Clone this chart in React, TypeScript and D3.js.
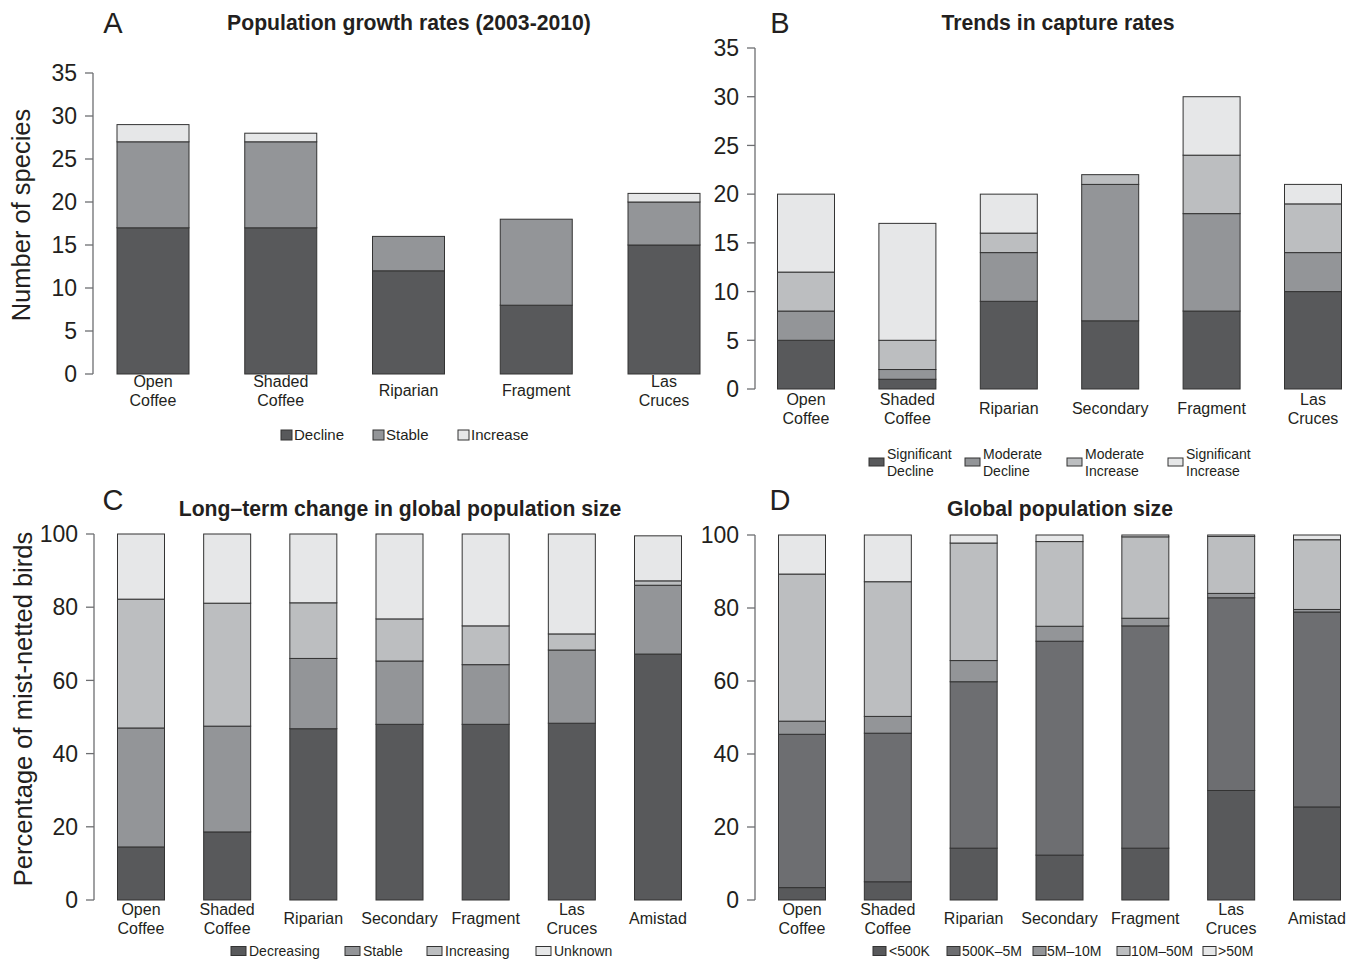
import React from "react";
import * as d3 from "d3";

// ---- Panel A: population growth rates (number of species)
const aCategories = ["Open\nCoffee", "Shaded\nCoffee", "Riparian", "Fragment", "Las\nCruces"];
const aDecline = [17, 17, 12, 8, 15];
const aStable = [10, 10, 4, 10, 5];
const aIncrease = [2, 1, 0, 0, 1];
const aLegend = ["Decline", "Stable", "Increase"];
const aTicks = [0, 5, 10, 15, 20, 25, 30, 35];

// ---- Panel B: trends in capture rates (number of species)
const bCategories = ["Open\nCoffee", "Shaded\nCoffee", "Riparian", "Secondary", "Fragment", "Las\nCruces"];
const bSigDecline = [5, 1, 9, 7, 8, 10];
const bModDecline = [3, 1, 5, 14, 10, 4];
const bModIncrease = [4, 3, 2, 1, 6, 5];
const bSigIncrease = [8, 12, 4, 0, 6, 2];
const bLegend = ["Significant\nDecline", "Moderate\nDecline", "Moderate\nIncrease", "Significant\nIncrease"];
const bTicks = [0, 5, 10, 15, 20, 25, 30, 35];

// ---- Panel C: long-term change in global population size (% of birds)
const cdCategories = ["Open\nCoffee", "Shaded\nCoffee", "Riparian", "Secondary", "Fragment", "Las\nCruces", "Amistad"];
const cDecreasing = [14.5, 18.6, 46.8, 48, 48, 48.3, 67.2];
const cStable = [32.5, 28.9, 19.2, 17.3, 16.3, 20, 18.8];
const cIncreasing = [35.2, 33.6, 15.2, 11.5, 10.6, 4.4, 1.2];
const cUnknown = [17.8, 18.9, 18.8, 23.2, 25.1, 27.3, 12.3];
const cLegend = ["Decreasing", "Stable", "Increasing", "Unknown"];

// ---- Panel D: global population size (% of birds)
const dLt500K = [3.4, 5, 14.2, 12.3, 14.2, 30, 25.5];
const d500Kto5M = [42, 40.7, 45.6, 58.6, 60.9, 52.8, 53.4];
const d5Mto10M = [3.6, 4.6, 5.8, 4.1, 2.1, 1.2, 0.7];
const d10Mto50M = [40.3, 36.9, 32.2, 23.2, 22.3, 15.6, 19.1];
const dGt50M = [10.7, 12.8, 2.2, 1.8, 0.5, 0.4, 1.3];
const dLegend = ["<500K", "500K\u20135M", "5M\u201310M", "10M\u201350M", ">50M"];
const pctTicks = [0, 20, 40, 60, 80, 100];

const titleA = "Population growth rates (2003-2010)";
const titleB = "Trends in capture rates";
const titleC = "Long\u2013term change in global population size";
const titleD = "Global population size";

const DARK = "#58595b";
const DARK2 = "#6d6e71";
const MID = "#939598";
const LIGHT = "#bcbec0";
const PALE = "#e6e7e8";
const INK = "#231f20";
const AXIS = "#6d6e71";
const FONT = "'Liberation Sans', Arial, Helvetica, sans-serif";

type LegendItem = { box: number; text: number };

type PanelProps = {
  letter: string;
  letterX: number;
  letterY: number;
  title: string;
  titleX: number;
  titleY: number;
  categories: string[];
  series: number[][];
  colors: string[];
  domainMax: number;
  ticks: number[];
  axisX: number;
  yBottom: number;
  yTop: number;
  firstCenter: number;
  lastCenter: number;
  barWidth: number;
  labelY: number;
  legend: LegendItem[];
  legendLabels: string[];
  legendY: number;
  boxW: number;
  boxH: number;
  legendFont: number;
};

function Panel(p: PanelProps) {
  const y = d3.scaleLinear().domain([0, p.domainMax]).range([p.yBottom, p.yTop]);
  const x = d3
    .scalePoint<number>()
    .domain(d3.range(p.categories.length))
    .range([p.firstCenter, p.lastCenter]);

  const rows = p.categories.map((_, i) => {
    const r: Record<string, number> = { idx: i };
    p.series.forEach((s, k) => (r["s" + k] = s[i]));
    return r;
  });
  const keys = p.series.map((_, k) => "s" + k);
  const stacked = d3.stack<Record<string, number>>().keys(keys)(rows);

  return (
    <g>
      <text x={p.letterX} y={p.letterY} fontSize={29} textAnchor="middle" fill={INK}>
        {p.letter}
      </text>
      <text x={p.titleX} y={p.titleY} fontSize={21.2} fontWeight="bold" textAnchor="middle" fill={INK}>
        {p.title}
      </text>
      {/* y axis */}
      <line x1={p.axisX} x2={p.axisX} y1={y(0)} y2={y(p.domainMax)} stroke={AXIS} strokeWidth={1.3} />
      {p.ticks.map((t) => (
        <g key={t}>
          <line x1={p.axisX - 8} x2={p.axisX} y1={y(t)} y2={y(t)} stroke={AXIS} strokeWidth={1.3} />
          <text x={p.axisX - 16} y={y(t)} dy="0.36em" fontSize={23} textAnchor="end" fill={INK}>
            {t}
          </text>
        </g>
      ))}
      {/* stacked bars */}
      {stacked.map((layer, k) =>
        layer.map((seg, i) => {
          const h = y(seg[0]) - y(seg[1]);
          if (h <= 0) return null;
          return (
            <rect
              key={k + "-" + i}
              x={(x(i) as number) - p.barWidth / 2}
              y={y(seg[1])}
              width={p.barWidth}
              height={h}
              fill={p.colors[k]}
              stroke="#333"
              strokeWidth={1}
            />
          );
        })
      )}
      {/* category labels */}
      {p.categories.map((c, i) => {
        const lines = c.split("\n");
        const off = lines.length === 1 ? 0 : -9.5;
        return (
          <text key={c} x={x(i) as number} y={p.labelY} fontSize={16} textAnchor="middle" fill={INK}>
            {lines.map((ln, j) => (
              <tspan key={j} x={x(i) as number} dy={j === 0 ? off + 6 : 19}>
                {ln}
              </tspan>
            ))}
          </text>
        );
      })}
      {/* legend */}
      {p.legend.map((item, k) => {
        const lines = p.legendLabels[k].split("\n");
        return (
          <g key={k}>
            <rect
              x={item.box}
              y={p.legendY - p.boxH / 2}
              width={p.boxW}
              height={p.boxH}
              fill={p.colors[k]}
              stroke="#333"
              strokeWidth={1}
            />
            <text x={item.text} y={p.legendY} fontSize={p.legendFont} fill={INK}>
              {lines.map((ln, j) => (
                <tspan key={j} x={item.text} dy={lines.length === 1 ? 5.2 : j === 0 ? -3 : 17}>
                  {ln}
                </tspan>
              ))}
            </text>
          </g>
        );
      })}
    </g>
  );
}

export default function App() {
  return (
    <svg width={1358} height={959} style={{ display: "block", position: "absolute", left: 0, top: 0 }} fontFamily={FONT}>
      <rect width={1358} height={959} fill="#fff" />
      <Panel
        letter="A"
        letterX={113}
        letterY={33}
        title={titleA}
        titleX={409}
        titleY={30}
        categories={aCategories}
        series={[aDecline, aStable, aIncrease]}
        colors={[DARK, MID, PALE]}
        domainMax={35}
        ticks={aTicks}
        axisX={93}
        yBottom={374}
        yTop={73}
        firstCenter={153}
        lastCenter={664}
        barWidth={72}
        labelY={390}
        legend={[
          { box: 281, text: 294 },
          { box: 373, text: 386 },
          { box: 458, text: 471 },
        ]}
        legendLabels={aLegend}
        legendY={435}
        boxW={11}
        boxH={10}
        legendFont={15}
      />
      <Panel
        letter="B"
        letterX={780}
        letterY={33}
        title={titleB}
        titleX={1058}
        titleY={30}
        categories={bCategories}
        series={[bSigDecline, bModDecline, bModIncrease, bSigIncrease]}
        colors={[DARK, MID, LIGHT, PALE]}
        domainMax={35}
        ticks={bTicks}
        axisX={755}
        yBottom={389}
        yTop={48}
        firstCenter={806}
        lastCenter={1313}
        barWidth={57}
        labelY={408}
        legend={[
          { box: 869, text: 887 },
          { box: 965, text: 983 },
          { box: 1067, text: 1085 },
          { box: 1168, text: 1186 },
        ]}
        legendLabels={bLegend}
        legendY={462}
        boxW={15}
        boxH={8}
        legendFont={14}
      />
      <Panel
        letter="C"
        letterX={113}
        letterY={510}
        title={titleC}
        titleX={400}
        titleY={516}
        categories={cdCategories}
        series={[cDecreasing, cStable, cIncreasing, cUnknown]}
        colors={[DARK, MID, LIGHT, PALE]}
        domainMax={100}
        ticks={pctTicks}
        axisX={94}
        yBottom={900}
        yTop={534}
        firstCenter={141}
        lastCenter={658}
        barWidth={47}
        labelY={918}
        legend={[
          { box: 231, text: 249 },
          { box: 345, text: 363 },
          { box: 427, text: 445 },
          { box: 536, text: 554 },
        ]}
        legendLabels={cLegend}
        legendY={951}
        boxW={15}
        boxH={9}
        legendFont={14}
      />
      <Panel
        letter="D"
        letterX={780}
        letterY={510}
        title={titleD}
        titleX={1060}
        titleY={516}
        categories={cdCategories}
        series={[dLt500K, d500Kto5M, d5Mto10M, d10Mto50M, dGt50M]}
        colors={[DARK, DARK2, MID, LIGHT, PALE]}
        domainMax={100}
        ticks={pctTicks}
        axisX={755}
        yBottom={900}
        yTop={535}
        firstCenter={802}
        lastCenter={1317}
        barWidth={47}
        labelY={918}
        legend={[
          { box: 873, text: 889 },
          { box: 947, text: 962 },
          { box: 1033, text: 1047 },
          { box: 1117, text: 1131 },
          { box: 1203, text: 1218 },
        ]}
        legendLabels={dLegend}
        legendY={951}
        boxW={13}
        boxH={9}
        legendFont={14}
      />
      {/* shared y-axis titles */}
      <text transform="translate(30,215) rotate(-90)" fontSize={25.5} textAnchor="middle" fill={INK}>
        Number of species
      </text>
      <text transform="translate(32,709) rotate(-90)" fontSize={25.5} textAnchor="middle" fill={INK}>
        Percentage of mist-netted birds
      </text>
    </svg>
  );
}
